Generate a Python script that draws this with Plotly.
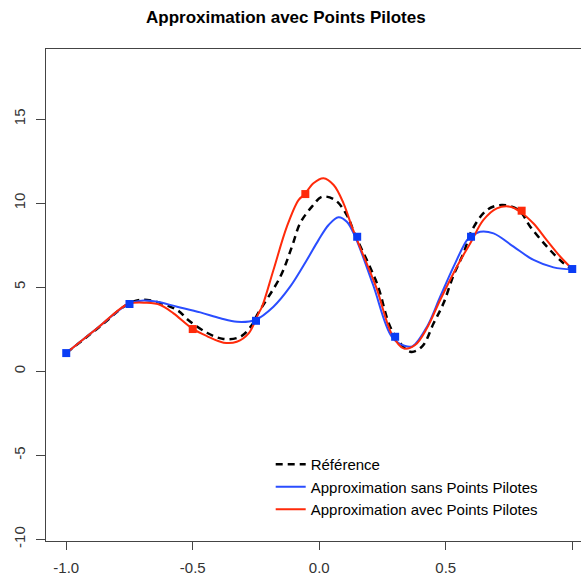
import plotly.graph_objects as go

# Reference curve (dashed black)
ref_x = [-1.0, -0.874, -0.747, -0.68, -0.562, -0.518, -0.444, -0.379, -0.312, -0.266, -0.246,
         -0.154, -0.108, -0.075, -0.029, 0.011, 0.063, 0.109, 0.142, 0.228, 0.287, 0.36, 0.406,
         0.452, 0.491, 0.531, 0.57, 0.604, 0.663, 0.722, 0.788, 0.834, 0.9, 0.96, 1.0]
ref_y = [1.08, 2.57, 4.07, 4.24, 3.64, 3.05, 2.29, 1.92, 2.05, 2.75, 3.34,
         5.62, 7.41, 8.82, 9.79, 10.38, 10.18, 9.29, 8.1, 5.23, 2.45, 1.16, 1.46,
         2.85, 4.04, 5.72, 7.01, 8.4, 9.59, 9.89, 9.59, 8.6, 7.41, 6.5, 6.08]

# Approximation without pilot points (blue)
sans_x = [-1.0, -0.874, -0.755, -0.694, -0.641, -0.562, -0.47, -0.391, -0.325, -0.253, -0.181,
          -0.115, -0.049, -0.003, 0.037, 0.076, 0.109, 0.142, 0.213, 0.287, 0.34, 0.37,
          0.426, 0.478, 0.531, 0.584, 0.6, 0.636, 0.689, 0.768, 0.847, 0.926, 1.0]
sans_y = [1.08, 2.6, 4.0, 4.21, 4.13, 3.84, 3.5, 3.15, 2.94, 3.05, 3.84,
          5.03, 6.62, 7.8, 8.7, 9.16, 8.89, 8.0, 5.13, 2.05, 1.5, 1.5,
          2.65, 4.43, 6.22, 7.8, 8.0, 8.3, 8.2, 7.41, 6.62, 6.18, 6.06]

# Approximation with pilot points (red)
avec_x = [-1.0, -0.874, -0.755, -0.681, -0.628, -0.576, -0.503, -0.444, -0.378, -0.326, -0.279,
          -0.24, -0.226, -0.181, -0.128, -0.082, -0.058, -0.023, 0.017, 0.057, 0.096, 0.129,
          0.155, 0.225, 0.287, 0.333, 0.379, 0.426, 0.478, 0.544, 0.597, 0.649, 0.702, 0.755,
          0.794, 0.846, 0.899, 0.953, 1.0]
avec_y = [1.08, 2.6, 4.0, 4.07, 3.94, 3.44, 2.55, 2.09, 1.7, 1.75, 2.25,
          3.44, 3.84, 6.02, 8.6, 10.18, 10.52, 11.18, 11.48, 11.08, 9.99, 8.6,
          7.61, 5.0, 2.2, 1.36, 1.56, 2.57, 4.24, 6.22, 7.61, 9.0, 9.69, 9.79,
          9.49, 8.8, 7.8, 6.81, 6.08]

# Data points
blue_pts_x = [-1.0, -0.75, -0.25, 0.15, 0.3, 0.6, 1.0]
blue_pts_y = [1.08, 4.0, 3.0, 8.0, 2.05, 8.0, 6.08]
red_pts_x = [-0.5, -0.055, 0.8]
red_pts_y = [2.51, 10.54, 9.55]

x_ticks = [-1.0, -0.5, 0.0, 0.5, 1.0]
x_tick_labels = ["-1.0", "-0.5", "0.0", "0.5", "1.0"]
y_ticks = [-10, -5, 0, 5, 10, 15]
y_tick_labels = ["-10", "-5", "0", "5", "10", "15"]

BLUE_LINE = "#2a4dff"
RED_LINE = "#ff2a0a"
BLUE_PT = "#0a3cf5"
RED_PT = "#ff2a0a"

fig = go.Figure()
fig.add_trace(go.Scatter(x=ref_x, y=ref_y, mode="lines", name="Référence",
                         line=dict(color="black", width=2.5, dash="7px,5px", shape="spline", smoothing=1.0)))
fig.add_trace(go.Scatter(x=sans_x, y=sans_y, mode="lines", name="Approximation sans Points Pilotes",
                         line=dict(color=BLUE_LINE, width=2, shape="spline", smoothing=1.0)))
fig.add_trace(go.Scatter(x=avec_x, y=avec_y, mode="lines", name="Approximation avec Points Pilotes",
                         line=dict(color=RED_LINE, width=2, shape="spline", smoothing=1.0)))
fig.add_trace(go.Scatter(x=red_pts_x, y=red_pts_y, mode="markers", showlegend=False,
                         marker=dict(symbol="square", size=8, color=RED_PT)))
fig.add_trace(go.Scatter(x=blue_pts_x, y=blue_pts_y, mode="markers", showlegend=False,
                         marker=dict(symbol="square", size=8, color=BLUE_PT)))

fig.update_layout(
    width=581, height=581,
    margin=dict(l=46, r=0, t=49, b=40, autoexpand=False),
    paper_bgcolor="white", plot_bgcolor="white",
    font=dict(family="Liberation Sans, Arial, sans-serif", size=15, color="#333"),
    title=dict(text="<b>Approximation avec Points Pilotes</b>", x=0.492, xref="container",
               xanchor="center", y=1 - 17 / 581, yref="container", yanchor="middle",
               font=dict(size=17, color="black")),
    showlegend=True,
    legend=dict(x=0.42, y=0.189, xanchor="left", yanchor="top", bgcolor="rgba(0,0,0,0)",
                font=dict(size=15, color="black"), tracegroupgap=0),
    xaxis=dict(range=[-1.08, 1.0346], showgrid=False, zeroline=False, automargin=False,
               showline=True, linecolor="#444", linewidth=1, mirror=True,
               ticks="outside", ticklen=8, tickcolor="#444", tickvals=x_ticks,
               ticktext=x_tick_labels, ticklabelstandoff=5),
    yaxis=dict(range=[-10.1, 19.17], showgrid=False, zeroline=False, automargin=False,
               showline=True, linecolor="#444", linewidth=1, mirror=False,
               ticks="outside", ticklen=9, tickcolor="#444", tickvals=y_ticks,
               ticktext=y_tick_labels, tickangle=-90, ticklabelstandoff=5),
)

fig.write_html("out.html", config={"displayModeBar": False, "staticPlot": True},
               post_script="document.body.style.margin='0px';document.body.style.overflow='hidden';")
